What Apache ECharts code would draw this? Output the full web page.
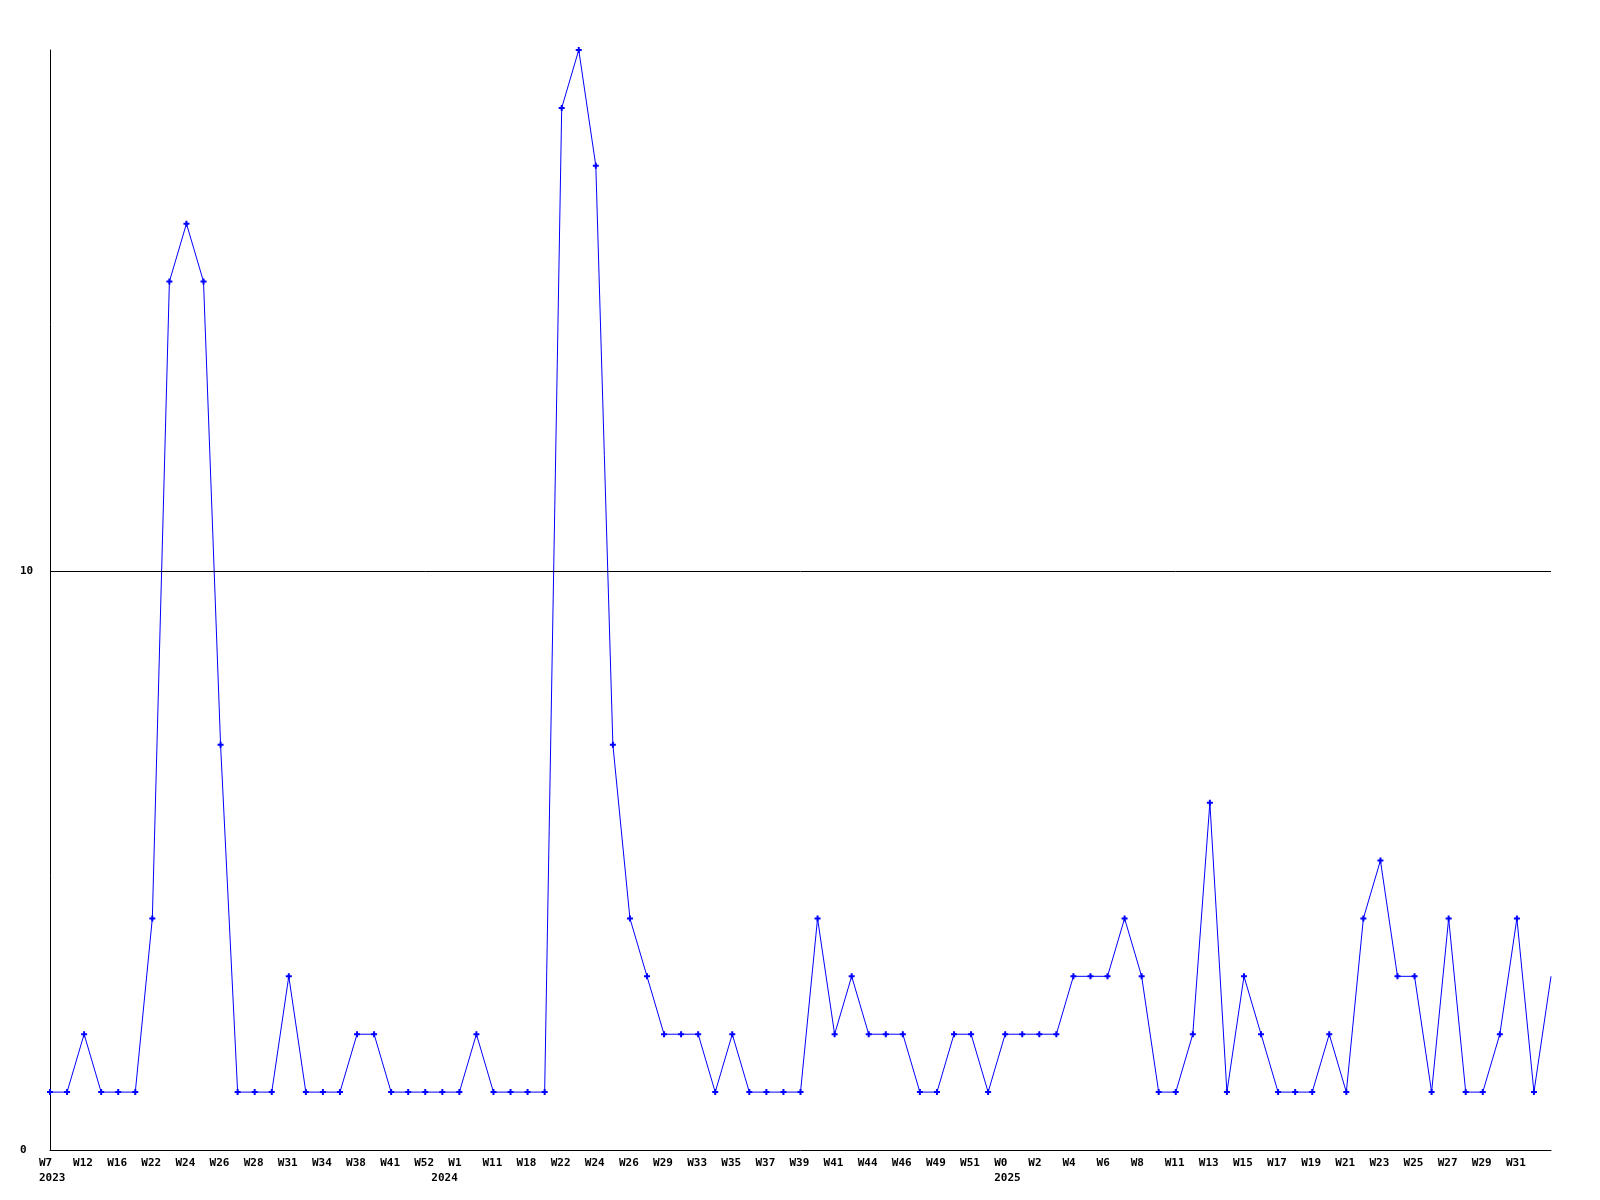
<!DOCTYPE html>
<html>
<head>
<meta charset="utf-8">
<script src="https://cdn.jsdelivr.net/npm/echarts@6/dist/echarts.min.js"></script>
<style>html,body{margin:0;padding:0;background:#fff}#c{width:1600px;height:1200px}</style>
</head>
<body>
<div id="c"></div>
<script>
// Categories: "year week" (every other week is labelled on the axis; the year is shown where it starts)
const categories = [
  '2023 W7','2023 W10','2023 W12','2023 W14','2023 W16','2023 W19','2023 W22','2023 W23','2023 W24','2023 W25',
  '2023 W26','2023 W27','2023 W28','2023 W29','2023 W31','2023 W32','2023 W34','2023 W36','2023 W38','2023 W39',
  '2023 W41','2023 W47','2023 W52','2024 W0','2024 W1','2024 W5','2024 W11','2024 W15','2024 W18','2024 W20',
  '2024 W22','2024 W23','2024 W24','2024 W25','2024 W26','2024 W27','2024 W29','2024 W31','2024 W33','2024 W34',
  '2024 W35','2024 W36','2024 W37','2024 W38','2024 W39','2024 W40','2024 W41','2024 W42','2024 W44','2024 W45',
  '2024 W46','2024 W47','2024 W49','2024 W50','2024 W51','2024 W52','2025 W0','2025 W1','2025 W2','2025 W3',
  '2025 W4','2025 W5','2025 W6','2025 W7','2025 W8','2025 W10','2025 W11','2025 W12','2025 W13','2025 W14',
  '2025 W15','2025 W16','2025 W17','2025 W18','2025 W19','2025 W20','2025 W21','2025 W22','2025 W23','2025 W24',
  '2025 W25','2025 W26','2025 W27','2025 W28','2025 W29','2025 W30','2025 W31','2025 W32','2025 W33'
];
const values = [
  1,1,2,1,1,1,4,15,16,15,
  7,1,1,1,3,1,1,1,2,2,
  1,1,1,1,1,2,1,1,1,1,
  18,19,17,7,4,3,2,2,2,1,
  2,1,1,1,1,4,2,3,2,2,
  2,1,1,2,2,1,2,2,2,2,
  3,3,3,4,3,1,1,2,6,1,
  3,2,1,1,1,2,1,4,5,3,
  3,1,4,1,1,2,4,1,3
];
const yMin = 0, yMax = 19, yInterval = 10;
const refLine = 10;

const chart = echarts.init(document.getElementById('c'), null, {renderer: 'canvas'});
const font = '"DejaVu Sans Mono", monospace';
const seriesData = values.map((v, i) => i === values.length - 1 ? {value: v, symbol: 'none'} : v);

chart.setOption({
  animation: false,
  backgroundColor: '#ffffff',
  grid: {left: 50, right: 49, top: 50, bottom: 50, containLabel: false},
  xAxis: {
    type: 'category',
    data: categories,
    boundaryGap: false,
    axisLine: {show: true, lineStyle: {color: '#000', width: 1}},
    axisTick: {show: false},
    splitLine: {show: false},
    axisLabel: {
      interval: 0,
      align: 'left',
      padding: [0, 0, 0, -11],
      margin: 6,
      fontFamily: font,
      fontWeight: 'bold',
      fontSize: 11,
      lineHeight: 15,
      color: '#000',
      formatter: function (val, idx) {
        if (idx === categories.length - 1) return '';
        const parts = val.split(' ');
        const prevYear = idx >= 1 ? categories[idx - 1].split(' ')[0] : null;
        const week = idx % 2 === 0 ? parts[1] : ' ';
        if (parts[0] !== prevYear) return week + '\n' + parts[0];
        return idx % 2 === 0 ? week : '';
      }
    }
  },
  yAxis: {
    type: 'value',
    min: yMin,
    max: yMax,
    interval: yInterval,
    axisLine: {show: true, lineStyle: {color: '#000', width: 1}},
    axisTick: {show: false},
    splitLine: {show: false},
    axisLabel: {
      showMaxLabel: false,
      align: 'left',
      margin: 30,
      fontFamily: font,
      fontWeight: 'bold',
      fontSize: 11,
      color: '#000'
    }
  },
  series: [{
    type: 'line',
    data: seriesData,
    symbol: 'path://M2,0H4V2H6V4H4V6H2V4H0V2H2Z',
    symbolSize: 6,
    showSymbol: true,
    lineStyle: {color: '#0000ff', width: 1},
    itemStyle: {color: '#0000ff'},
    emphasis: {disabled: true},
    markLine: {
      silent: true,
      symbol: 'none',
      label: {show: false},
      lineStyle: {color: '#000', width: 1, type: 'solid'},
      data: [{yAxis: refLine}]
    }
  }]
});
</script>
</body>
</html>
